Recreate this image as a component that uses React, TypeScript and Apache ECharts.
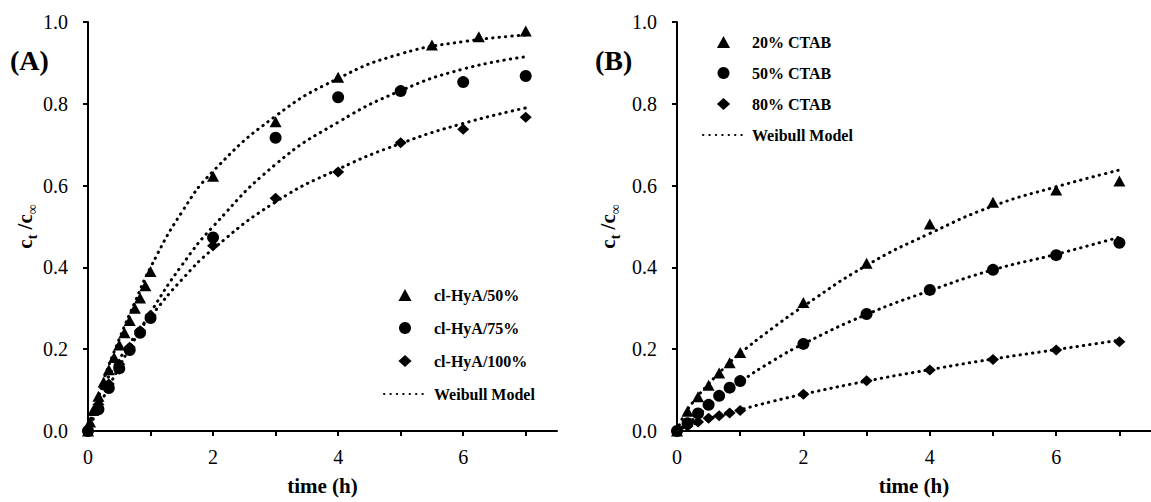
import React, { useEffect, useRef } from "react";
import * as echarts from "echarts";

// ---------- Panel A data ----------
const timeA50 = [0, 0.033, 0.083, 0.167, 0.25, 0.333, 0.417, 0.5, 0.583, 0.667, 0.75, 0.833, 0.917, 1, 2, 3, 4, 5.5, 6.25, 7];
const valA50 = [0, 0.022, 0.05, 0.085, 0.12, 0.15, 0.18, 0.21, 0.24, 0.27, 0.3, 0.325, 0.355, 0.39, 0.623, 0.756, 0.865, 0.944, 0.964, 0.978];
const timeA = [0, 0.167, 0.333, 0.5, 0.667, 0.833, 1, 2, 3, 4, 5, 6, 7];
const valA75 = [0, 0.053, 0.105, 0.153, 0.198, 0.24, 0.276, 0.473, 0.717, 0.816, 0.831, 0.853, 0.868];
const valA100 = [0, 0.065, 0.115, 0.163, 0.205, 0.245, 0.283, 0.453, 0.569, 0.633, 0.705, 0.738, 0.767];

const fitTimeA = [0, 0.1, 0.25, 0.5, 0.75, 1, 1.5, 2, 3, 4, 5, 6, 7];
const fitA50 = [0, 0.05, 0.125, 0.225, 0.315, 0.4, 0.535, 0.635, 0.77, 0.862, 0.922, 0.952, 0.968];
const fitA75 = [0, 0.035, 0.083, 0.157, 0.225, 0.29, 0.405, 0.5, 0.652, 0.755, 0.832, 0.885, 0.915];
const fitA100 = [0, 0.055, 0.11, 0.175, 0.232, 0.28, 0.37, 0.445, 0.56, 0.64, 0.703, 0.752, 0.79];

// ---------- Panel B data ----------
const timeB = [0, 0.167, 0.333, 0.5, 0.667, 0.833, 1, 2, 3, 4, 5, 6, 7];
const valB20 = [0, 0.048, 0.084, 0.112, 0.142, 0.167, 0.192, 0.314, 0.41, 0.506, 0.559, 0.589, 0.611];
const valB50 = [0, 0.019, 0.043, 0.064, 0.086, 0.106, 0.122, 0.213, 0.286, 0.345, 0.394, 0.43, 0.46];
const valB80 = [0, 0.012, 0.022, 0.031, 0.037, 0.044, 0.05, 0.09, 0.123, 0.149, 0.175, 0.198, 0.218];

const fitTimeB = [0, 0.1, 0.25, 0.5, 0.75, 1, 1.5, 2, 3, 4, 5, 6, 7];
const fitB20 = [0, 0.035, 0.07, 0.115, 0.155, 0.19, 0.25, 0.305, 0.405, 0.483, 0.55, 0.597, 0.638];
const fitB50 = [0, 0.012, 0.028, 0.06, 0.09, 0.12, 0.17, 0.213, 0.285, 0.343, 0.394, 0.432, 0.474];
const fitB80 = [0, 0.008, 0.016, 0.03, 0.041, 0.052, 0.072, 0.09, 0.122, 0.15, 0.176, 0.199, 0.222];

const namesA = ["cl-HyA/50%", "cl-HyA/75%", "cl-HyA/100%"];
const namesB = ["20% CTAB", "50% CTAB", "80% CTAB"];
const modelName = "Weibull Model";

const xTicks = [0, 1, 2, 3, 4, 5, 6, 7];
const xTickLabels = [0, 2, 4, 6];

const FONT = '"Liberation Serif", "Times New Roman", serif';
const TRI = "path://M6,0L12,11L0,11Z";
const DIA = "path://M5.5,0L11,5L5.5,10L0,5Z";

const zip = (t: number[], v: number[]) => t.map((x, i) => [x, v[i]]);

function xAxis(gridIndex: number) {
  return {
    type: "value",
    gridIndex,
    min: 0,
    max: 7.5,
    axisLine: { show: true, onZero: false, lineStyle: { color: "#000", width: 2 } },
    axisTick: { show: true, length: 5, lineStyle: { color: "#000", width: 2 }, customValues: xTicks },
    axisLabel: { customValues: xTickLabels, color: "#000", fontFamily: FONT, fontSize: 20, margin: 16 },
    splitLine: { show: false },
    name: "time (h)",
    nameLocation: "middle",
    nameGap: 44,
    nameTextStyle: { fontFamily: FONT, fontWeight: "bold", fontSize: 21, color: "#000" },
  };
}

function yAxis(gridIndex: number, gap: number) {
  return {
    type: "value",
    gridIndex,
    min: 0,
    max: 1,
    interval: 0.2,
    axisLine: { show: true, onZero: false, lineStyle: { color: "#000", width: 2 } },
    axisTick: { show: true, length: 5, lineStyle: { color: "#000", width: 2 } },
    axisLabel: {
      color: "#000",
      fontFamily: FONT,
      fontSize: 20,
      margin: 20,
      formatter: (v: number) => v.toFixed(1),
    },
    splitLine: { show: false },
    name: "{m|c}{s|t}{m| /c}{s|∞}",
    nameLocation: "middle",
    nameRotate: 90,
    nameGap: gap,
    nameTextStyle: {
      rich: {
        m: { fontFamily: FONT, fontWeight: "bold", fontSize: 21, color: "#000", lineHeight: 28 },
        s: { fontFamily: FONT, fontWeight: "bold", fontSize: 14, color: "#000", lineHeight: 14, verticalAlign: "bottom" },
      },
    },
  };
}

function scatter(name: string, idx: number, t: number[], v: number[], symbol: string, size: any) {
  return {
    type: "scatter",
    name,
    xAxisIndex: idx,
    yAxisIndex: idx,
    data: zip(t, v),
    symbol,
    symbolSize: size,
    itemStyle: { color: "#000", opacity: 1 },
    clip: false,
    z: 3,
  };
}

function model(idx: number, t: number[], v: number[]) {
  return {
    type: "line",
    name: modelName,
    xAxisIndex: idx,
    yAxisIndex: idx,
    data: zip(t, v),
    symbol: "none",
    smooth: 0.5,
    itemStyle: { color: "#000" },
    lineStyle: { color: "#000", width: 3, type: [0.4, 6], cap: "round" },
    z: 2,
  };
}

function legend(names: string[], left: number, top: number, gap: number, w: number) {
  return {
    data: [
      { name: names[0], icon: TRI },
      { name: names[1], icon: "circle" },
      { name: names[2], icon: DIA },
      { name: modelName, itemStyle: { color: "rgba(0,0,0,0)", borderWidth: 0, opacity: 0 } },
    ],
    orient: "vertical",
    left,
    top,
    padding: 0,
    itemWidth: w,
    itemHeight: 12,
    itemGap: gap,
    symbolKeepAspect: true,
    selectedMode: false,
    itemStyle: { opacity: 1 },
    textStyle: { fontFamily: FONT, fontWeight: "bold", fontSize: 16, color: "#000", lineHeight: 16, padding: [0, 0, 0, 3] },
  };
}

export default function App() {
  const ref = useRef<HTMLDivElement>(null);
  useEffect(() => {
    if (!ref.current) return;
    const chart = echarts.init(ref.current, undefined, { renderer: "svg" });
    chart.setOption({
      animation: false,
      backgroundColor: "#fff",
      grid: [
        { left: 88, top: 22, width: 469, height: 409 },
        { left: 677, top: 22, width: 485, height: 409 },
      ],
      xAxis: [xAxis(0), xAxis(1)],
      yAxis: [yAxis(0, 46), yAxis(1, 55)],
      legend: [legend(namesA, 383, 287, 17, 42), legend(namesB, 702, 34, 15, 41)],
      graphic: [
        { type: "text", left: 10, top: 46, style: { text: "(A)", font: `bold 28px ${FONT}`, fill: "#000" } },
        { type: "text", left: 595, top: 46, style: { text: "(B)", font: `bold 28px ${FONT}`, fill: "#000" } },
      ],
      series: [
        model(0, fitTimeA, fitA50),
        model(0, fitTimeA, fitA75),
        model(0, fitTimeA, fitA100),
        scatter(namesA[0], 0, timeA50, valA50, "triangle", [12, 11]),
        scatter(namesA[1], 0, timeA, valA75, "circle", 12),
        scatter(namesA[2], 0, timeA, valA100, "diamond", [12, 11]),
        model(1, fitTimeB, fitB20),
        model(1, fitTimeB, fitB50),
        model(1, fitTimeB, fitB80),
        scatter(namesB[0], 1, timeB, valB20, "triangle", [12, 11]),
        scatter(namesB[1], 1, timeB, valB50, "circle", 12),
        scatter(namesB[2], 1, timeB, valB80, "diamond", [12, 11]),
      ],
    });
    return () => chart.dispose();
  }, []);
  return <div ref={ref} style={{ position: "fixed", left: 0, top: 0, width: 1151, height: 502, background: "#fff" }} />;
}
